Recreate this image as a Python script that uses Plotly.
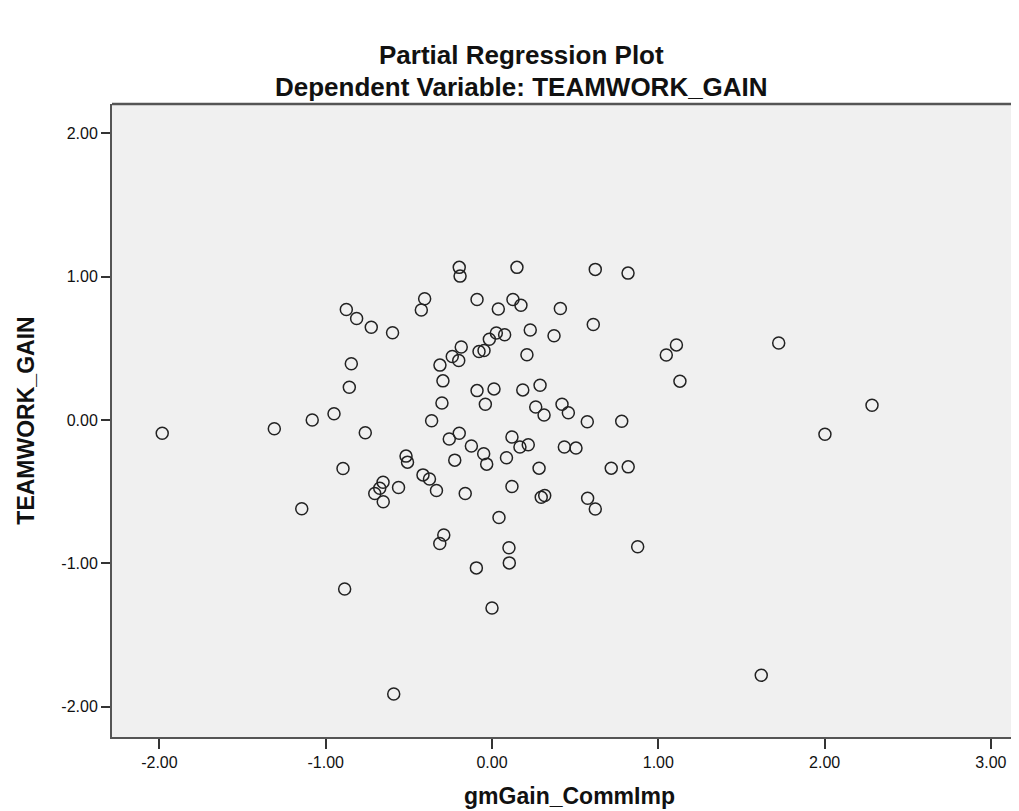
import plotly.graph_objects as go

# Partial regression residuals
gm_gain_commimp = [
    -0.876, -0.814, -0.726, -0.598, -0.846, -0.858, -0.950, -1.081, -1.309, -1.983,
    -0.762, -0.896, -0.655, -0.675, -0.705, -0.654, -0.562, -1.144, -0.886, -0.591,
    -0.517, -0.508, -0.197, -0.192, 0.150, 0.621, 0.818, -0.405, -0.425, -0.090,
    0.038, 0.126, 0.174, 0.411, 0.609, 0.230, 0.373, 0.026, 0.076, -0.016,
    -0.078, -0.048, -0.185, -0.239, -0.200, 0.210, -0.313, -0.295, 1.048, 1.109,
    1.130, -0.090, 0.012, 0.185, 0.289, -0.301, -0.040, 0.263, 0.313, 0.421,
    0.459, 0.573, 0.780, -0.363, -0.257, -0.197, -0.124, -0.050, -0.032, -0.224,
    0.120, 0.168, 0.218, 0.087, 0.435, 0.505, 0.283, 0.717, 0.819, -0.415,
    -0.376, -0.334, -0.161, 0.120, 0.296, 0.317, 0.575, 0.621, 0.042, -0.290,
    -0.314, 0.102, 0.104, -0.094, 0.876, 0.000, 1.724, 2.285, 2.002, 1.619,
]
teamwork_gain = [
    0.771, 0.708, 0.647, 0.609, 0.392, 0.229, 0.044, 0.000, -0.061, -0.093,
    -0.089, -0.338, -0.434, -0.476, -0.513, -0.570, -0.471, -0.619, -1.179, -1.912,
    -0.252, -0.294, 1.065, 1.004, 1.065, 1.051, 1.025, 0.846, 0.768, 0.841,
    0.775, 0.841, 0.801, 0.778, 0.666, 0.628, 0.588, 0.607, 0.595, 0.563,
    0.478, 0.485, 0.509, 0.443, 0.415, 0.455, 0.383, 0.273, 0.453, 0.524,
    0.271, 0.205, 0.217, 0.210, 0.243, 0.119, 0.110, 0.091, 0.035, 0.110,
    0.051, -0.012, -0.009, -0.005, -0.133, -0.093, -0.182, -0.236, -0.308, -0.280,
    -0.119, -0.189, -0.173, -0.264, -0.189, -0.196, -0.336, -0.336, -0.327, -0.383,
    -0.412, -0.492, -0.513, -0.464, -0.539, -0.527, -0.546, -0.621, -0.680, -0.803,
    -0.862, -0.892, -0.997, -1.032, -0.885, -1.312, 0.537, 0.103, -0.100, -1.781,
]

tick_vals = [-2, -1, 0, 1, 2, 3]
tick_text = ["-2.00", "-1.00", "0.00", "1.00", "2.00", "3.00"]
ytick_vals = [-2, -1, 0, 1, 2]
ytick_text = ["-2.00", "-1.00", "0.00", "1.00", "2.00"]

title_text = "Partial Regression Plot"
subtitle_text = "Dependent Variable: TEAMWORK_GAIN"
x_title = "gmGain_CommImp"
y_title = "TEAMWORK_GAIN"

FONT = "Liberation Sans, Arial, sans-serif"

fig = go.Figure()
fig.add_trace(go.Scatter(
    x=gm_gain_commimp, y=teamwork_gain, mode="markers",
    marker=dict(symbol="circle-open", size=12, color="#222222",
                line=dict(width=1.5, color="#222222")),
    hoverinfo="x+y", showlegend=False,
))

axis_common = dict(
    showgrid=False, zeroline=False, showline=True, linecolor="#555555", linewidth=2,
    ticks="outside", tickcolor="#333333", tickwidth=1.5,
    tickfont=dict(family=FONT, size=16, color="#111111"),
)

fig.update_layout(
    width=1019, height=811,
    margin=dict(l=104, r=0, t=96, b=82),
    paper_bgcolor="white", plot_bgcolor="#F0F0F0",
    font=dict(family=FONT, color="#111111"),
    xaxis=dict(range=[-2.285, 3.217], tickvals=tick_vals, ticktext=tick_text, ticklen=10,
               title=dict(text=f"<b>{x_title}</b>", font=dict(family=FONT, size=23), standoff=18),
               **axis_common),
    yaxis=dict(range=[-2.212, 2.205], tickvals=ytick_vals, ticktext=ytick_text, ticklen=9,
               title=dict(text=f"<b>{y_title}</b>", font=dict(family=FONT, size=23), standoff=20),
               **axis_common),
    shapes=[dict(type="line", xref="paper", yref="paper", x0=0, x1=1, y0=1, y1=1,
                 line=dict(color="#555555", width=2.5))],
    annotations=[
        dict(text=f"<b>{title_text}</b>", xref="paper", yref="paper", x=0.447, y=1,
             yshift=49, xanchor="center", yanchor="middle", showarrow=False,
             font=dict(family=FONT, size=26, color="#111111")),
        dict(text=f"<b>{subtitle_text}</b>", xref="paper", yref="paper", x=0.447, y=1,
             yshift=17, xanchor="center", yanchor="middle", showarrow=False,
             font=dict(family=FONT, size=26, color="#111111")),
    ],
)

fig.write_html("out.html")
